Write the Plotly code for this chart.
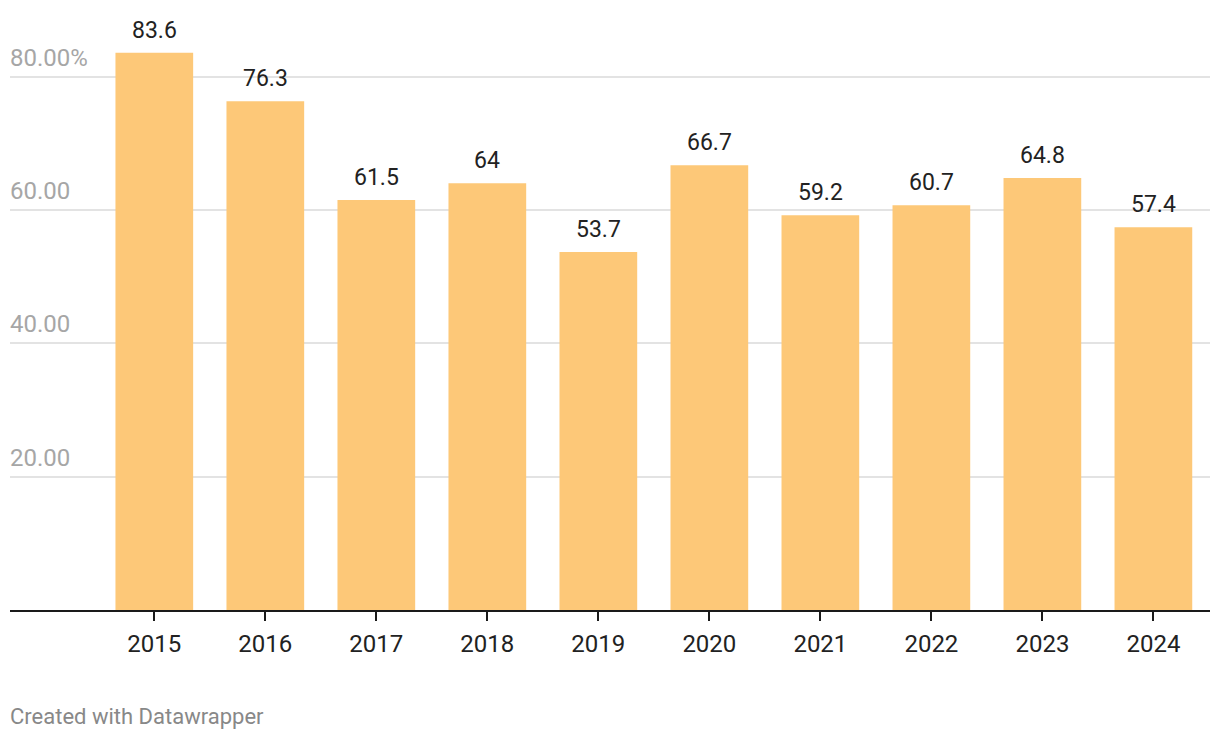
import plotly.graph_objects as go

years = ["2015", "2016", "2017", "2018", "2019", "2020", "2021", "2022", "2023", "2024"]
values = [83.6, 76.3, 61.5, 64, 53.7, 66.7, 59.2, 60.7, 64.8, 57.4]
value_labels = ["83.6", "76.3", "61.5", "64", "53.7", "66.7", "59.2", "60.7", "64.8", "57.4"]
y_ticks = [20, 40, 60, 80]
y_tick_labels = ["20.00", "40.00", "60.00", "80.00%"]

FONT = "Roboto"

fig = go.Figure()
fig.add_trace(go.Bar(
    x=years, y=values,
    marker=dict(color="#fdc878", line=dict(width=0)),
    width=0.7,
    hoverinfo="skip",
))

annotations = []
for i, (v, lab) in enumerate(zip(values, value_labels)):
    annotations.append(dict(
        x=i, y=v, xref="x", yref="y", text=lab, showarrow=False,
        yanchor="bottom", yshift=7,
        font=dict(family=FONT, size=23, color="#222222"),
    ))
for t, lab in zip(y_ticks, y_tick_labels):
    annotations.append(dict(
        x=0, y=t, xref="paper", yref="y", text=lab, showarrow=False,
        xanchor="left", yanchor="bottom", yshift=3, xshift=-2,
        font=dict(family=FONT, size=24, color="#a6a6a6"),
    ))
annotations.append(dict(
    x=0, y=0, xref="paper", yref="paper", text="Created with Datawrapper",
    showarrow=False, xanchor="left", yanchor="middle", xshift=-2, yshift=-106,
    font=dict(family=FONT, size=22, color="#888888"),
))

fig.update_layout(
    width=1220, height=740,
    margin=dict(l=10, r=10, t=10, b=130),
    paper_bgcolor="white", plot_bgcolor="white",
    showlegend=False,
    annotations=annotations,
    font=dict(family=FONT),
    xaxis=dict(
        type="category",
        range=[-1.3, 9.51],
        showline=True, linecolor="#1a1a1a", linewidth=2,
        ticks="outside", ticklen=9, tickwidth=2, tickcolor="#1a1a1a",
        tickfont=dict(family=FONT, size=24, color="#222222"),
        ticklabelstandoff=2,
        showgrid=False, zeroline=False,
    ),
    yaxis=dict(
        range=[0, 90],
        tickvals=y_ticks, showticklabels=False,
        showgrid=True, gridcolor="#e3e3e3", gridwidth=2,
        zeroline=False, showline=False, ticks="",
    ),
)

fig.write_html("out.html", config={"displayModeBar": False},
               post_script="document.body.style.margin='0px';")
